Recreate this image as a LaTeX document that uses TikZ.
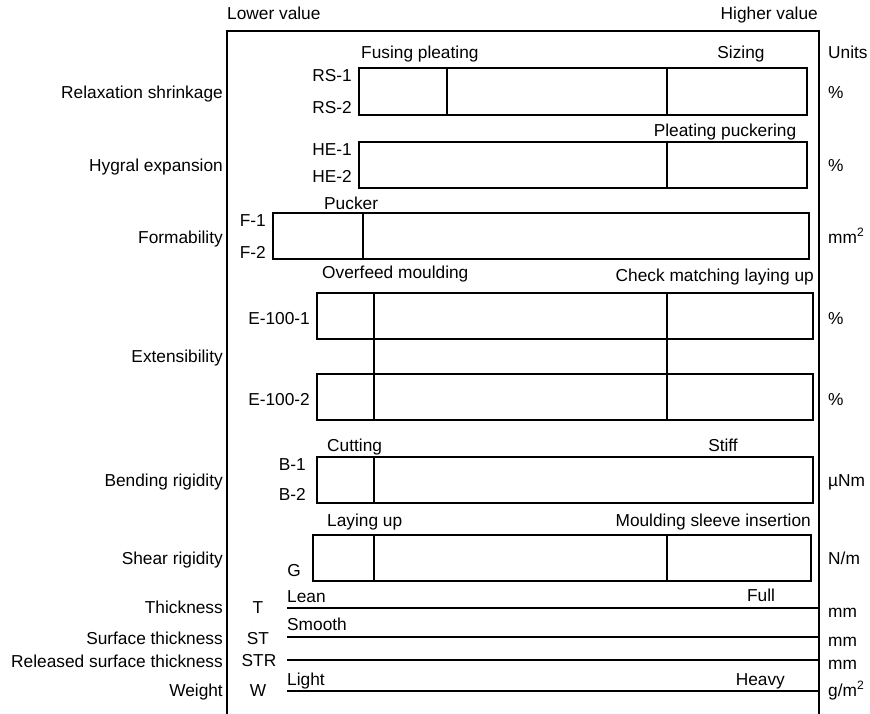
\documentclass[tikz,border=0pt]{standalone}
\usepackage{fontspec}
\setmainfont{Liberation Sans}
\begin{document}
\begin{tikzpicture}[x=1pt,y=-1pt,
  lbl/.style={inner sep=0pt, text height=12.4pt, text depth=0pt, font=\fontsize{17.3}{20}\selectfont},
  le/.style={lbl, anchor=east},
  lw/.style={lbl, anchor=west},
  lc/.style={lbl, anchor=center},
  bar/.style={draw=black, line width=1.1pt},
  frame/.style={draw=black, line width=1.2pt}]
\useasboundingbox (0,0) rectangle (870,714);
% frame
\draw[frame] (227,714) -- (227,31) -- (819,31) -- (819,714);
\node[lw] (lower) at (227,13) {Lower value};
\node[le] (higher) at (818,13) {Higher value};
\node[lw] (units) at (828,52) {Units};

% Relaxation shrinkage
\node[lw] (fp) at (361,52) {Fusing pleating};
\node[lc] (siz) at (741,52) {Sizing};
\draw[bar] (359,68) rectangle (807,115);
\draw[bar] (447,68) -- (447,115);
\draw[bar] (667,68) -- (667,115);
\node[le] (rs1) at (352,75) {RS-1};
\node[le] (rs2) at (352,107) {RS-2};
\node[le] (rsl) at (223,92) {Relaxation shrinkage};
\node[lw] (rsu) at (828,92) {\%};

% Hygral expansion
\node[lc] (pp) at (725,130) {Pleating puckering};
\draw[bar] (359,142) rectangle (807,188);
\draw[bar] (667,142) -- (667,188);
\node[le] (he1) at (352,149) {HE-1};
\node[le] (he2) at (352,176) {HE-2};
\node[le] (hel) at (223,165) {Hygral expansion};
\node[lw] (heu) at (828,165) {\%};

% Formability
\node[lw] (puck) at (324,203) {Pucker};
\draw[bar] (273,213) rectangle (809,259);
\draw[bar] (363,213) -- (363,259);
\node[le] (f1) at (266,220) {F-1};
\node[le] (f2) at (266,252) {F-2};
\node[le] (fl) at (223,237) {Formability};
\node[lw] (fu) at (828,237) {mm\textsuperscript{2}};

% Extensibility
\node[lw] (om) at (322,272) {Overfeed moulding};
\node[le] (cm) at (814,275) {Check matching laying up};
\draw[bar] (317,293) rectangle (813,339);
\draw[bar] (317,374) rectangle (813,420);
\coordinate (e1a) at (374,293); \coordinate (e2a) at (374,420);
\coordinate (e1b) at (667,293); \coordinate (e2b) at (667,420);
\draw[bar] (e1a) -- (e2a);
\draw[bar] (e1b) -- (e2b);
\node[le] (e1) at (310,318) {E-100-1};
\node[le] (e2) at (310,399) {E-100-2};
\node[le] (el) at (223,356) {Extensibility};
\node[lw] (e1u) at (828,318) {\%};
\node[lw] (e2u) at (828,399) {\%};

% Bending rigidity
\node[lw] (cut) at (327,445) {Cutting};
\node[lc] (stiff) at (723,445) {Stiff};
\draw[bar] (317,457) rectangle (813,503);
\draw[bar] (374,457) -- (374,503);
\node[le] (b1) at (306,464) {B-1};
\node[le] (b2) at (306,494) {B-2};
\node[le] (bl) at (223,480) {Bending rigidity};
\node[lw] (bu) at (828,480) {µNm};

% Shear rigidity
\node[lw] (lay) at (327,520) {Laying up};
\node[le] (msi) at (811,520) {Moulding sleeve insertion};
\draw[bar] (313,535) rectangle (811,581);
\draw[bar] (374,535) -- (374,581);
\draw[bar] (667,535) -- (667,581);
\node[lc] (g) at (294,570) {G};
\node[le] (gl) at (223,558) {Shear rigidity};
\node[lw] (gu) at (828,558) {N/m};

% Lines
\node[lw] (lean) at (287,596) {Lean};
\node[lc] (full) at (761,595) {Full};
\coordinate (ta) at (287,608); \coordinate (tb) at (819,608);
\draw[bar] (ta) -- (tb);
\node[lc] (t) at (258,607) {T};
\node[le] (tl) at (223,607) {Thickness};
\node[lw] (tu) at (828,611) {mm};

\node[lw] (smooth) at (287,624) {Smooth};
\coordinate (sa) at (287,637); \coordinate (sb) at (819,637);
\draw[bar] (sa) -- (sb);
\node[lc] (st) at (258,638) {ST};
\node[le] (stl) at (223,638) {Surface thickness};
\node[lw] (stu) at (828,640) {mm};

\coordinate (ra) at (287,660); \coordinate (rb) at (819,660);
\draw[bar] (ra) -- (rb);
\node[lc] (str) at (259,660) {STR};
\node[le] (strl) at (223,661) {Released surface thickness};
\node[lw] (stru) at (828,663) {mm};

\node[lw] (light) at (287,679) {Light};
\node[le] (heavy) at (785,679) {Heavy};
\coordinate (wa) at (287,691); \coordinate (wb) at (819,691);
\draw[bar] (wa) -- (wb);
\node[lc] (w) at (258,690) {W};
\node[le] (wl) at (223,690) {Weight};
\node[lw] (wu) at (828,690) {g/m\textsuperscript{2}};
\end{tikzpicture}
\end{document}
